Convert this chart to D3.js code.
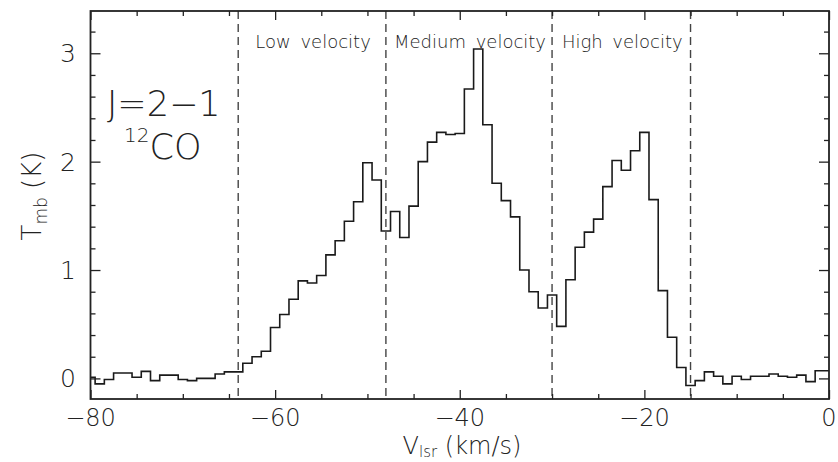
<!DOCTYPE html>
<html>
<head>
<meta charset="utf-8">
<script src="https://cdn.jsdelivr.net/npm/d3@7"></script>
<style>
  html, body { margin: 0; padding: 0; background: #fff; }
  svg { display: block; }
  text { font-family: "DejaVu Sans", sans-serif; font-weight: 200; fill: #222; }
</style>
</head>
<body>
<svg id="chart" width="838" height="462"></svg>
<script>
// 12CO J=2-1 spectrum: channel velocities (km/s) and main-beam temperature (K)
const velocity = [
  -80, -79, -78, -77, -76, -75, -74, -73, -72, -71,
  -70, -69, -68, -67, -66, -65, -64, -63, -62, -61,
  -60, -59, -58, -57, -56, -55, -54, -53, -52, -51,
  -50, -49, -48, -47, -46, -45, -44, -43, -42, -41,
  -40, -39, -38, -37, -36, -35, -34, -33, -32, -31,
  -30, -29, -28, -27, -26, -25, -24, -23, -22, -21,
  -20, -19, -18, -17, -16, -15, -14, -13, -12, -11,
  -10, -9, -8, -7, -6, -5, -4, -3, -2, -1, 0
];
const tmb = [
  0.01, -0.05, -0.01, 0.05, 0.05, 0.01, 0.065, -0.02, 0.03, 0.03,
  -0.01, -0.02, 0.00, 0.00, 0.04, 0.06, 0.06, 0.14, 0.20, 0.25,
  0.47, 0.59, 0.73, 0.90, 0.88, 0.95, 1.14, 1.27, 1.45, 1.63,
  1.99, 1.83, 1.36, 1.54, 1.30, 1.59, 2.00, 2.18, 2.27, 2.25,
  2.26, 2.67, 3.04, 2.34, 1.80, 1.64, 1.49, 1.00, 0.80, 0.65,
  0.77, 0.48, 0.91, 1.21, 1.35, 1.47, 1.77, 2.01, 1.92, 2.10,
  2.27, 1.65, 0.81, 0.38, 0.10, -0.065, -0.02, 0.06, 0.02, -0.05,
  0.02, -0.01, 0.02, 0.02, 0.04, 0.02, 0.01, 0.03, -0.03, 0.07, 0.07
];

// Velocity ranges that separate the three components
const boundaries = [-64, -48, -30, -15];
const regions = [
  { name: "Low velocity", from: -64, to: -48 },
  { name: "Medium velocity", from: -48, to: -30 },
  { name: "High velocity", from: -30, to: -15 }
];

const xDomain = [-80, 0];
const yDomain = [-0.19, 3.39];
const xMajor = [-80, -60, -40, -20, 0];
const yMajor = [0, 1, 2, 3];

const svg = d3.select("#chart");
const plotLeft = 90.5, plotRight = 829, plotTop = 11, plotBottom = 399;

const x = d3.scaleLinear().domain(xDomain).range([plotLeft, plotRight]);
const y = d3.scaleLinear().domain(yDomain).range([plotBottom, plotTop]);

svg.append("rect").attr("width", 838).attr("height", 462).attr("fill", "#fff");

svg.append("clipPath").attr("id", "plot-clip")
  .append("rect").attr("x", plotLeft).attr("y", plotTop)
  .attr("width", plotRight - plotLeft).attr("height", plotBottom - plotTop);

// Dashed velocity-range separators
svg.append("g").selectAll("line").data(boundaries).join("line")
  .attr("x1", d => x(d)).attr("x2", d => x(d))
  .attr("y1", plotTop).attr("y2", plotBottom)
  .attr("stroke", "#444").attr("stroke-width", 1.4)
  .attr("stroke-dasharray", "8,5");

// Spectrum drawn as a histogram-style step line
const line = d3.line()
  .x((d, i) => x(velocity[i]))
  .y(d => y(d))
  .curve(d3.curveStep);

svg.append("path")
  .datum(tmb)
  .attr("clip-path", "url(#plot-clip)")
  .attr("fill", "none")
  .attr("stroke", "#1a1a1a")
  .attr("stroke-width", 1.6)
  .attr("stroke-linejoin", "miter")
  .attr("d", line);

// Frame axes with inward ticks on all four sides
const xMinor = d3.range(-80, 0.1, 5).filter(v => !xMajor.includes(v));
const yMinor = d3.range(-0.2, 3.41, 0.2).map(v => +v.toFixed(1))
  .filter(v => !yMajor.includes(v) && v >= yDomain[0] && v <= yDomain[1]);

function tickAxis(axisFn, scale, values, size) {
  return axisFn(scale).tickValues(values).tickSize(size).tickFormat("");
}

const axes = svg.append("g").attr("class", "frame");
axes.append("g").attr("transform", `translate(0,${plotBottom})`).call(tickAxis(d3.axisTop, x, xMajor, 9));
axes.append("g").attr("transform", `translate(0,${plotBottom})`).call(tickAxis(d3.axisTop, x, xMinor, 5));
axes.append("g").attr("transform", `translate(0,${plotTop})`).call(tickAxis(d3.axisBottom, x, xMajor, 9));
axes.append("g").attr("transform", `translate(0,${plotTop})`).call(tickAxis(d3.axisBottom, x, xMinor, 5));
axes.append("g").attr("transform", `translate(${plotLeft},0)`).call(tickAxis(d3.axisRight, y, yMajor, 10));
axes.append("g").attr("transform", `translate(${plotLeft},0)`).call(tickAxis(d3.axisRight, y, yMinor, 5));
axes.append("g").attr("transform", `translate(${plotRight},0)`).call(tickAxis(d3.axisLeft, y, yMajor, 10));
axes.append("g").attr("transform", `translate(${plotRight},0)`).call(tickAxis(d3.axisLeft, y, yMinor, 5));
axes.selectAll(".domain").remove();
axes.selectAll(".tick line").attr("stroke", "#222").attr("stroke-width", 1.3);

svg.append("rect")
  .attr("x", plotLeft).attr("y", plotTop)
  .attr("width", plotRight - plotLeft).attr("height", plotBottom - plotTop)
  .attr("fill", "none").attr("stroke", "#222").attr("stroke-width", 1.8);

// Tick labels
const fmt = v => (v < 0 ? "\u2212" + Math.abs(v) : String(v));
svg.append("g").selectAll("text").data(xMajor).join("text")
  .attr("x", d => x(d)).attr("y", 426)
  .attr("text-anchor", "middle")
  .attr("font-size", 24)
  .text(fmt);

svg.append("g").selectAll("text").data(yMajor).join("text")
  .attr("x", 76).attr("y", d => y(d) + 9)
  .attr("text-anchor", "end")
  .attr("font-size", 25)
  .text(fmt);

// Region labels
svg.append("g").selectAll("text").data(regions).join("text")
  .attr("x", d => x((d.from + d.to) / 2) + 1)
  .attr("y", 48)
  .attr("text-anchor", "middle")
  .attr("font-size", 18)
  .attr("word-spacing", 4)
  .text(d => d.name);

// Transition label
const tr = svg.append("g");
tr.append("text").attr("x", 107).attr("y", 116).attr("font-size", 35).text("J=2\u22121");
const co = tr.append("text").attr("x", 124).attr("y", 159).attr("font-size", 35);
co.append("tspan").attr("font-size", 20).attr("dy", -17).text("12");
co.append("tspan").attr("dy", 17).text("CO");

// Axis titles
const xt = svg.append("text").attr("x", 462).attr("y", 454).attr("text-anchor", "middle").attr("font-size", 24);
xt.append("tspan").text("V");
xt.append("tspan").attr("font-size", 15).attr("dy", 3).text("lsr");
xt.append("tspan").attr("dy", -3).text(" (km/s)");

const yt = svg.append("text")
  .attr("transform", "translate(41,196) rotate(-90)")
  .attr("text-anchor", "middle").attr("font-size", 26);
yt.append("tspan").text("T");
yt.append("tspan").attr("font-size", 17).attr("dy", 6).text("mb");
yt.append("tspan").attr("dy", -6).text(" (K)");
</script>
</body>
</html>
